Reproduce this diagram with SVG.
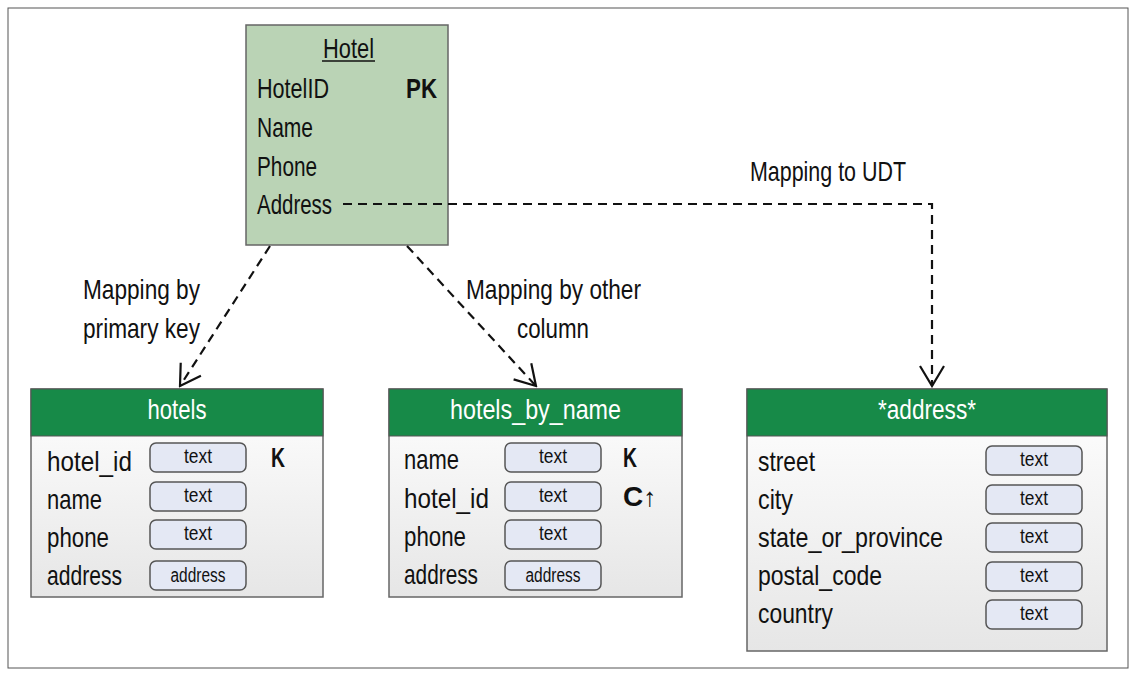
<svg xmlns="http://www.w3.org/2000/svg" width="1132" height="675" viewBox="0 0 1132 675">
<defs>
<style>
.t{font-family:'Liberation Sans',Arial,sans-serif;font-size:28px;fill:#111}
.w{fill:#fff;text-anchor:middle}
.b{font-weight:bold}
.p{font-family:'Liberation Sans',Arial,sans-serif;font-size:20px;fill:#111;text-anchor:middle}
.pill{fill:#e4e8f4;stroke:#555;stroke-width:1.5}
.frame{fill:url(#bodyGrad);stroke:#666;stroke-width:1.5}
.hdr{fill:#178a48;stroke:#555;stroke-width:1}
.con{fill:none;stroke:#111;stroke-width:2.2;stroke-dasharray:9 6}
</style>
<linearGradient id="bodyGrad" x1="0" y1="0" x2="0" y2="1">
<stop offset="0" stop-color="#ffffff"/>
<stop offset="1" stop-color="#e6e6e6"/>
</linearGradient>
<marker id="arr" viewBox="-22 -14 24 28" markerWidth="24" markerHeight="28" refX="0" refY="0" orient="auto" markerUnits="userSpaceOnUse">
<path d="M-20,-12 L0,0 L-20,12" fill="none" stroke="#111" stroke-width="2.2"/>
</marker>
</defs>
<rect x="8" y="8" width="1120" height="660" fill="#fff" stroke="#555" stroke-width="1"/>

<g id="Hotel">
<rect x="246" y="25" width="202" height="220" fill="#bad3b5" stroke="#666" stroke-width="1.5"/>
<text class="t" x="323" y="58" textLength="51" lengthAdjust="spacingAndGlyphs">Hotel</text>
<line x1="322" y1="61" x2="375" y2="61" stroke="#111" stroke-width="1.5"/>
<text class="t" x="257" y="98" textLength="72" lengthAdjust="spacingAndGlyphs">HotelID</text>
<text class="t b" x="406" y="98" textLength="31" lengthAdjust="spacingAndGlyphs">PK</text>
<text class="t" x="257" y="137" textLength="56" lengthAdjust="spacingAndGlyphs">Name</text>
<text class="t" x="257" y="176" textLength="60" lengthAdjust="spacingAndGlyphs">Phone</text>
<text class="t" x="257" y="214" textLength="75" lengthAdjust="spacingAndGlyphs">Address</text>
</g>

<g id="hotels">
<rect class="frame" x="31" y="389" width="292" height="208"/>
<rect class="hdr" x="31" y="389" width="292" height="47"/>
<text class="t w" x="177" y="419" textLength="59" lengthAdjust="spacingAndGlyphs">hotels</text>
<text class="t" x="47" y="471" textLength="85" lengthAdjust="spacingAndGlyphs">hotel_id</text>
<text class="t" x="47" y="509" textLength="55" lengthAdjust="spacingAndGlyphs">name</text>
<text class="t" x="47" y="547" textLength="62" lengthAdjust="spacingAndGlyphs">phone</text>
<text class="t" x="47" y="585" textLength="75" lengthAdjust="spacingAndGlyphs">address</text>
<rect class="pill" x="150" y="443" width="96" height="29" rx="6"/>
<rect class="pill" x="150" y="482" width="96" height="29" rx="6"/>
<rect class="pill" x="150" y="520" width="96" height="29" rx="6"/>
<rect class="pill" x="150" y="561" width="96" height="29" rx="6"/>
<text class="p" x="198" y="463" textLength="28" lengthAdjust="spacingAndGlyphs">text</text>
<text class="p" x="198" y="502" textLength="28" lengthAdjust="spacingAndGlyphs">text</text>
<text class="p" x="198" y="540" textLength="28" lengthAdjust="spacingAndGlyphs">text</text>
<text class="p" x="198" y="582" textLength="55" lengthAdjust="spacingAndGlyphs">address</text>
<text class="t b" x="271" y="467" textLength="14" lengthAdjust="spacingAndGlyphs">K</text>
</g>

<g id="hotels_by_name">
<rect class="frame" x="389" y="389" width="293" height="208"/>
<rect class="hdr" x="389" y="389" width="293" height="47"/>
<text class="t w" x="535.5" y="419" textLength="171" lengthAdjust="spacingAndGlyphs">hotels_by_name</text>
<text class="t" x="404" y="469" textLength="55" lengthAdjust="spacingAndGlyphs">name</text>
<text class="t" x="404" y="508" textLength="85" lengthAdjust="spacingAndGlyphs">hotel_id</text>
<text class="t" x="404" y="546" textLength="62" lengthAdjust="spacingAndGlyphs">phone</text>
<text class="t" x="404" y="584" textLength="74" lengthAdjust="spacingAndGlyphs">address</text>
<rect class="pill" x="505" y="443" width="96" height="29" rx="6"/>
<rect class="pill" x="505" y="482" width="96" height="29" rx="6"/>
<rect class="pill" x="505" y="520" width="96" height="29" rx="6"/>
<rect class="pill" x="505" y="561" width="96" height="29" rx="6"/>
<text class="p" x="553" y="463" textLength="28" lengthAdjust="spacingAndGlyphs">text</text>
<text class="p" x="553" y="502" textLength="28" lengthAdjust="spacingAndGlyphs">text</text>
<text class="p" x="553" y="540" textLength="28" lengthAdjust="spacingAndGlyphs">text</text>
<text class="p" x="553" y="582" textLength="55" lengthAdjust="spacingAndGlyphs">address</text>
<text class="t b" x="623" y="467" textLength="14" lengthAdjust="spacingAndGlyphs">K</text>
<text class="t" x="623" y="506"><tspan class="b">C</tspan><tspan font-size="26" dx="0">↑</tspan></text>
</g>

<g id="address">
<rect class="frame" x="747" y="389" width="360" height="262"/>
<rect class="hdr" x="747" y="389" width="360" height="47"/>
<text class="t w" x="927" y="419" textLength="98" lengthAdjust="spacingAndGlyphs">*address*</text>
<text class="t" x="758" y="471" textLength="57" lengthAdjust="spacingAndGlyphs">street</text>
<text class="t" x="758" y="509" textLength="35" lengthAdjust="spacingAndGlyphs">city</text>
<text class="t" x="758" y="547" textLength="185" lengthAdjust="spacingAndGlyphs">state_or_province</text>
<text class="t" x="758" y="585" textLength="124" lengthAdjust="spacingAndGlyphs">postal_code</text>
<text class="t" x="758" y="623" textLength="75" lengthAdjust="spacingAndGlyphs">country</text>
<rect class="pill" x="986" y="446" width="96" height="29" rx="6"/>
<rect class="pill" x="986" y="485" width="96" height="29" rx="6"/>
<rect class="pill" x="986" y="523" width="96" height="29" rx="6"/>
<rect class="pill" x="986" y="562" width="96" height="29" rx="6"/>
<rect class="pill" x="986" y="600" width="96" height="29" rx="6"/>
<text class="p" x="1034" y="466" textLength="28" lengthAdjust="spacingAndGlyphs">text</text>
<text class="p" x="1034" y="505" textLength="28" lengthAdjust="spacingAndGlyphs">text</text>
<text class="p" x="1034" y="543" textLength="28" lengthAdjust="spacingAndGlyphs">text</text>
<text class="p" x="1034" y="582" textLength="28" lengthAdjust="spacingAndGlyphs">text</text>
<text class="p" x="1034" y="620" textLength="28" lengthAdjust="spacingAndGlyphs">text</text>
</g>

<g id="connectors">
<path class="con" d="M270,246 L180,386" marker-end="url(#arr)"/>
<path class="con" d="M407,246 L536,386" marker-end="url(#arr)"/>
<path class="con" d="M343,204 L932,204 L932,386" marker-end="url(#arr)"/>
<text class="t" x="83" y="299" textLength="117" lengthAdjust="spacingAndGlyphs">Mapping by</text>
<text class="t" x="83" y="338" textLength="117" lengthAdjust="spacingAndGlyphs">primary key</text>
<text class="t" x="466" y="299" textLength="175" lengthAdjust="spacingAndGlyphs">Mapping by other</text>
<text class="t" x="517" y="338" textLength="72" lengthAdjust="spacingAndGlyphs">column</text>
<text class="t" x="750" y="181" textLength="156" lengthAdjust="spacingAndGlyphs">Mapping to UDT</text>
</g>
</svg>
